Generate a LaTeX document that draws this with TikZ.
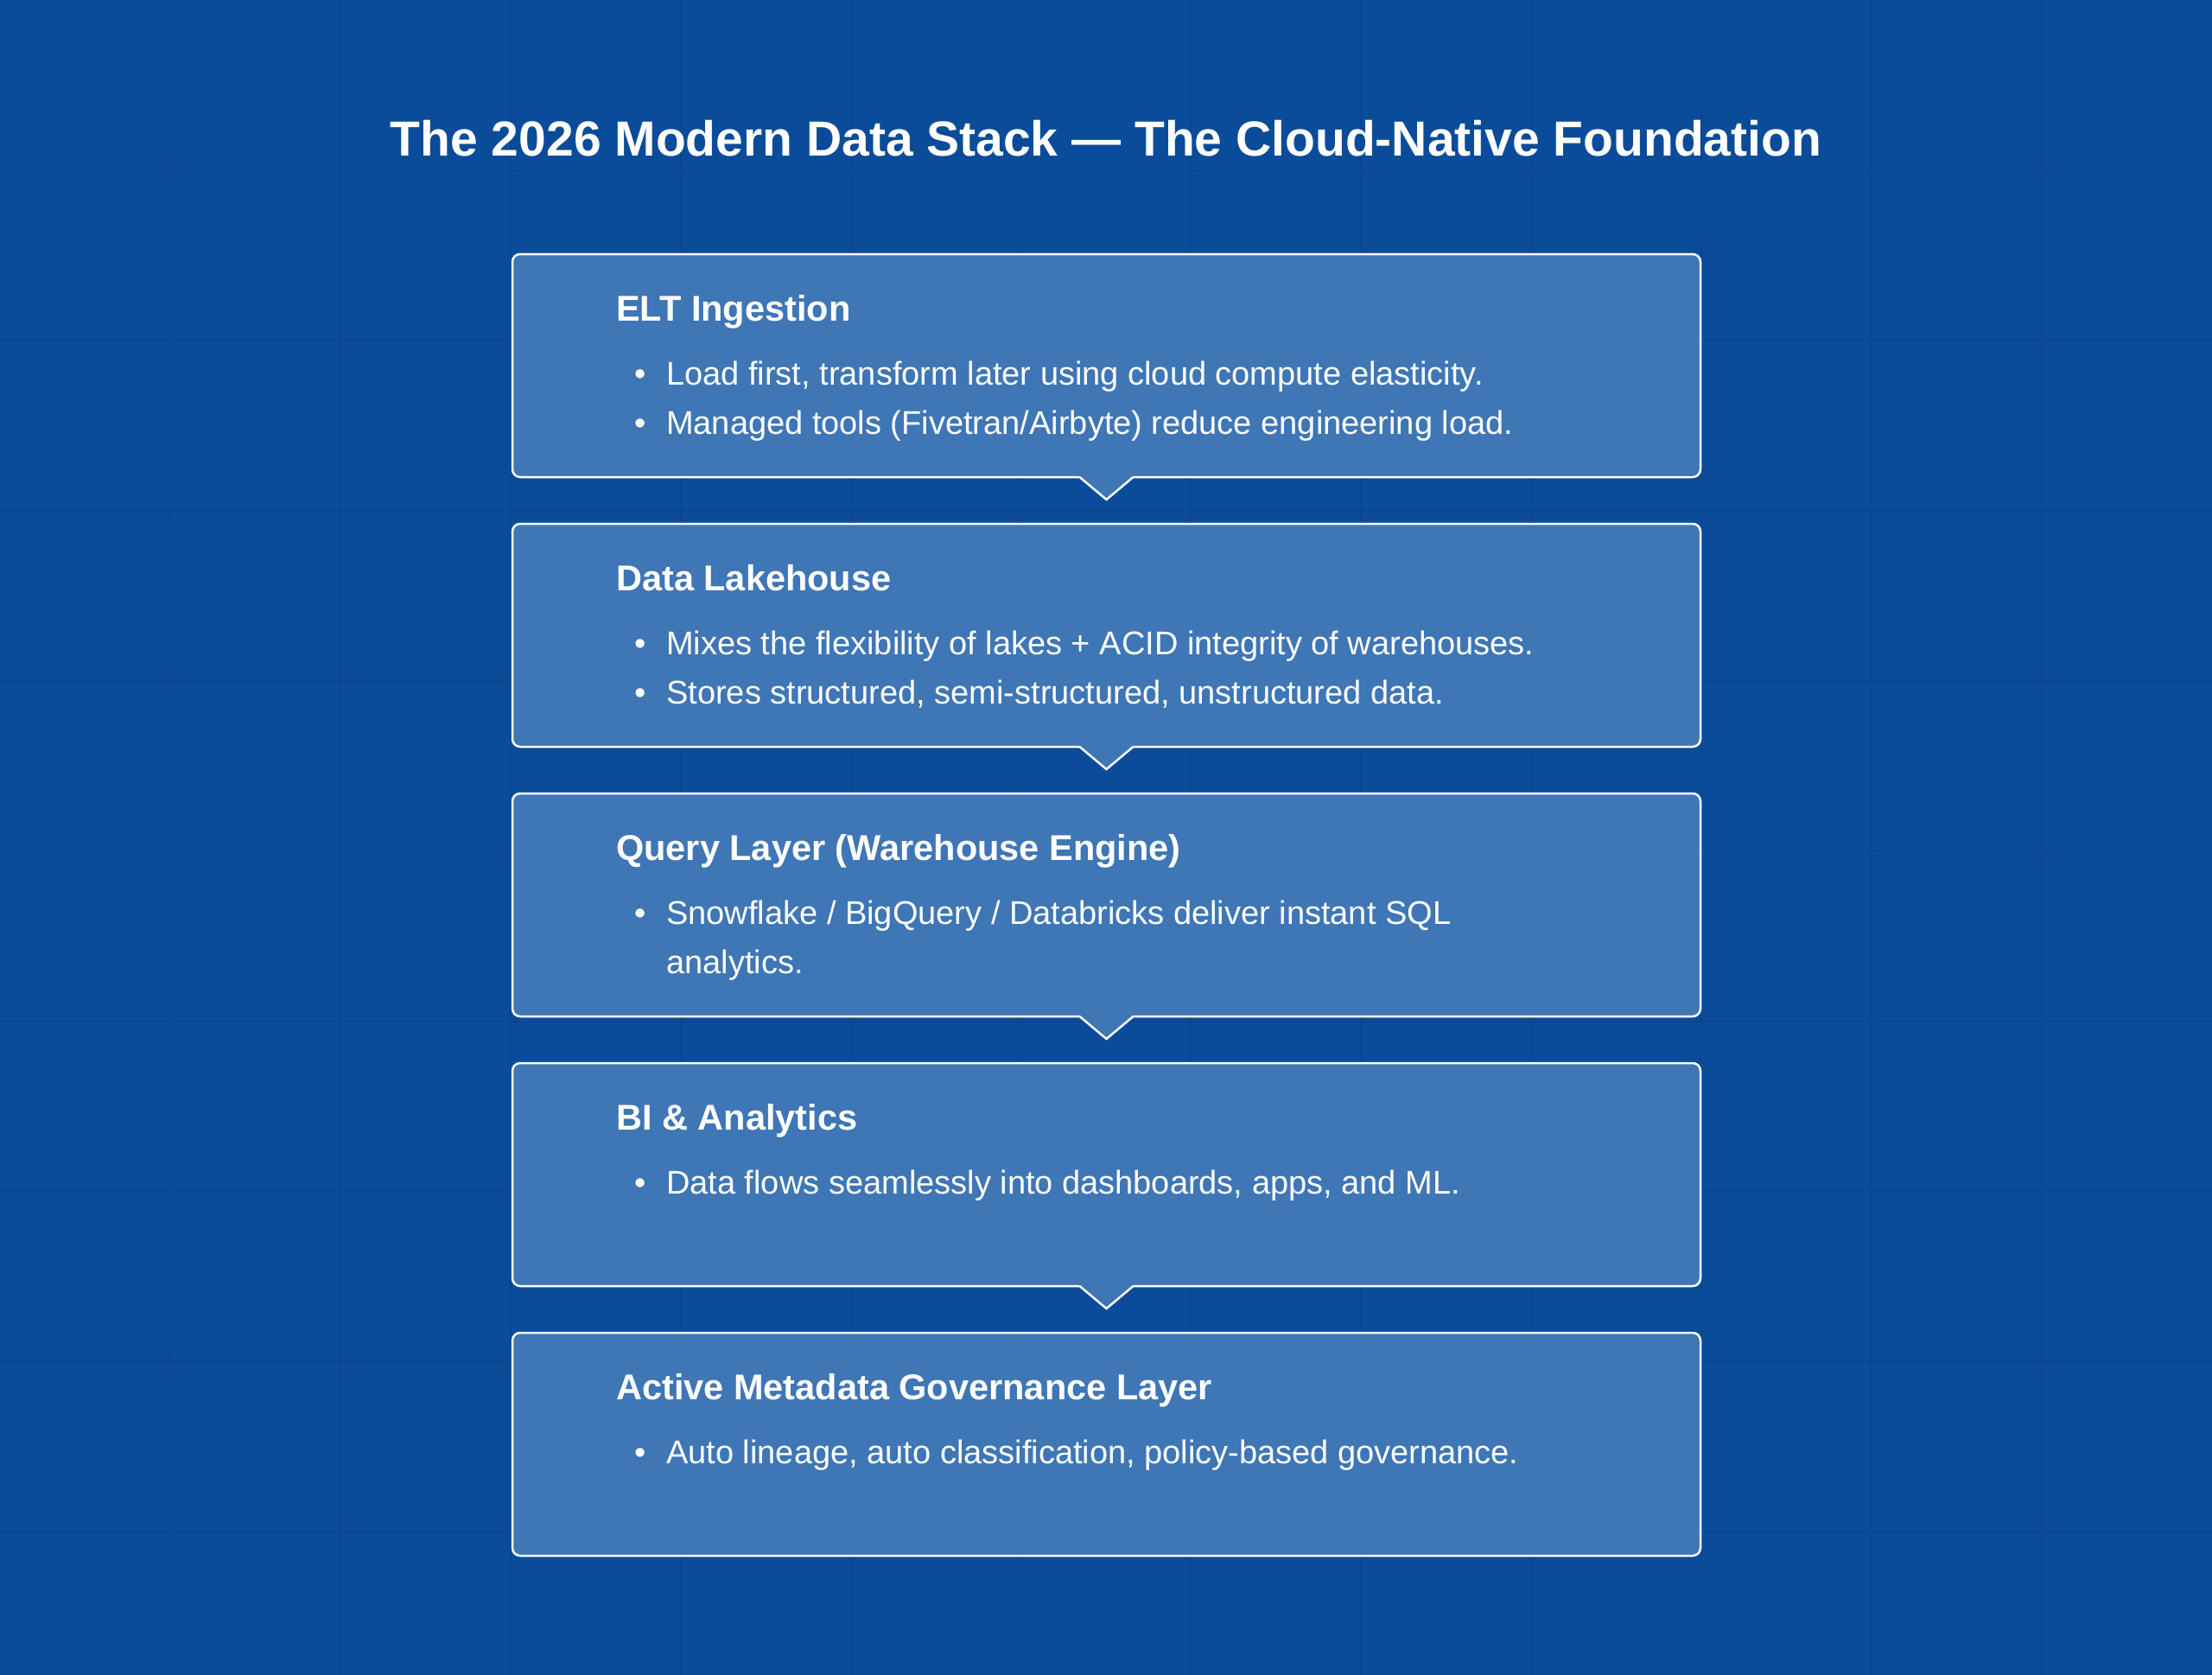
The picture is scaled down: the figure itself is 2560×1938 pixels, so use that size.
\documentclass[tikz,border=0pt]{standalone}
\usepackage{fontspec}
\setmainfont{Liberation Sans}
\usetikzlibrary{calc}
\definecolor{bgc}{HTML}{0B4C9A}
\definecolor{gridc}{HTML}{0A4590}
\definecolor{boxc}{HTML}{3E76B6}
\begin{document}
\begin{tikzpicture}[x=1pt,y=-1pt,
  box/.style={draw=white, line width=2.5pt, fill=boxc, rounded corners=9pt,
    minimum width=1375pt, minimum height=258pt, inner sep=0pt, outer sep=0pt},
  head/.style={anchor=base west, inner sep=0pt, text=white,
    font=\fontsize{41.5}{50}\selectfont\bfseries},
  item/.style={anchor=base west, inner sep=0pt, text=white,
    font=\fontsize{38}{57}\selectfont},
  dot/.style={anchor=base, inner sep=0pt, text=white,
    font=\fontsize{38}{57}\selectfont},
  ttl/.style={anchor=base, inner sep=0pt, text=white,
    font=\fontsize{57}{68}\selectfont\bfseries},
  gridline/.style={draw=gridc, line width=2pt},
  notchline/.style={draw=white, line width=2.5pt, line join=miter}
]
\useasboundingbox (0,0) rectangle (2560,1938);
\fill[bgc] (0,0) rectangle (2560,1938);
\foreach \i in {1,...,12} \draw[gridline] (\i*196.92,0) -- (\i*196.92,1938);
\foreach \j in {1,...,9} \draw[gridline] (0,\j*196.92) -- (2560,\j*196.92);

\node[ttl] (title) at (1280,180) {The 2026 Modern Data Stack — The Cloud-Native Foundation};

% boxes (top = 294 + 312 k)
\node[box] (b1) at (1280.5,423) {};
\node[box] (b2) at (1280.5,735) {};
\node[box] (b3) at (1280.5,1047) {};
\node[box] (b4) at (1280.5,1359) {};
\node[box] (b5) at (1280.5,1671) {};

% notches
\foreach \b in {b1,b2,b3,b4}{
  \fill[boxc] ($(\b.south)+(-31,-3)$) -- ($(\b.south)+(31,-3)$) -- ($(\b.south)+(31,0)$)
     -- ($(\b.south)+(0,26)$) -- ($(\b.south)+(-31,0)$) -- cycle;
  \draw[notchline] ($(\b.south)+(-31,0)$) -- ($(\b.south)+(0,26)$) -- ($(\b.south)+(31,0)$);
}

% box 1
\node[head] (h1) at (713,371) {ELT Ingestion};
\node[dot] (d11) at (741,445) {•};
\node[item] (t11) at (771,445) {Load first, transform later using cloud compute elasticity.};
\node[dot] (d12) at (741,502) {•};
\node[item] (t12) at (771,502) {Managed tools (Fivetran/Airbyte) reduce engineering load.};

% box 2
\node[head] (h2) at (713,683) {Data Lakehouse};
\node[dot] (d21) at (741,757) {•};
\node[item] (t21) at (771,757) {Mixes the flexibility of lakes + ACID integrity of warehouses.};
\node[dot] (d22) at (741,814) {•};
\node[item] (t22) at (771,814) {Stores structured, semi-structured, unstructured data.};

% box 3
\node[head] (h3) at (713,995) {Query Layer (Warehouse Engine)};
\node[dot] (d31) at (741,1069) {•};
\node[item] (t31) at (771,1069) {Snowflake / BigQuery / Databricks deliver instant SQL};
\node[item] (t32) at (771,1126) {analytics.};

% box 4
\node[head] (h4) at (713,1307) {BI \& Analytics};
\node[dot] (d41) at (741,1381) {•};
\node[item] (t41) at (771,1381) {Data flows seamlessly into dashboards, apps, and ML.};

% box 5
\node[head] (h5) at (713,1619) {Active Metadata Governance Layer};
\node[dot] (d51) at (741,1693) {•};
\node[item] (t51) at (771,1693) {Auto lineage, auto classification, policy-based governance.};
\end{tikzpicture}
\end{document}
